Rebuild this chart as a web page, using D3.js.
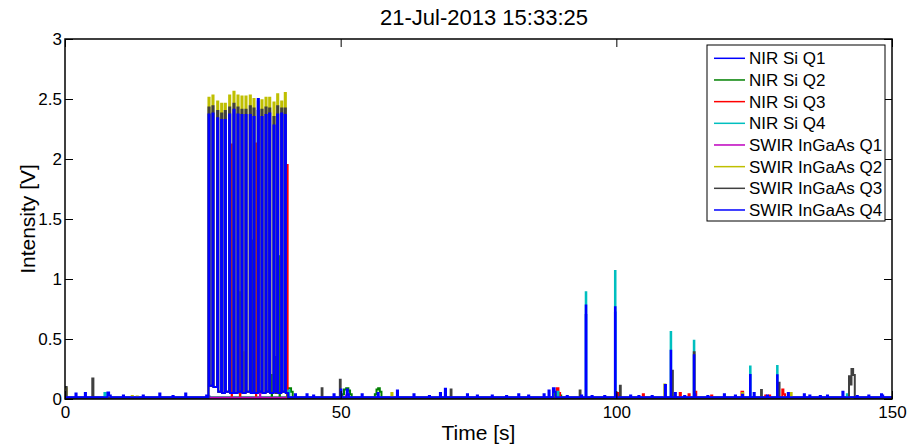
<!DOCTYPE html>
<html>
<head>
<meta charset="utf-8">
<script src="https://cdn.jsdelivr.net/npm/d3@7"></script>
<style>
  html, body { margin: 0; padding: 0; background: #fff; }
  svg { display: block; font-family: "Liberation Sans", Arial, Helvetica, sans-serif; }
</style>
</head>
<body>
<svg id="chart" width="907" height="448"></svg>
<script>
// ---- labels and ticks ----
const titleText = "21-Jul-2013 15:33:25";
const xLabel = "Time [s]";
const yLabel = "Intensity [V]";
const xTicks = [0, 50, 100, 150];
const yTicks = [0, 0.5, 1, 1.5, 2, 2.5, 3];

const seriesNames = ["NIR Si Q1", "NIR Si Q2", "NIR Si Q3", "NIR Si Q4",
                     "SWIR InGaAs Q1", "SWIR InGaAs Q2", "SWIR InGaAs Q3", "SWIR InGaAs Q4"];
const seriesColors = ["#0000ff", "#008000", "#ff0000", "#00bfbf",
                      "#bf00bf", "#bfbf00", "#404040", "#0000ff"];

// ---- lamp burst (26 s – 40 s): pulse start times [s], pulse length [s], peak / floor levels [V] ----
const burstStart = [26.02, 26.74, 27.60, 28.32, 28.98, 29.77, 30.55, 31.28, 32.00, 32.73,
                    33.51, 34.18, 34.96, 35.63, 36.36, 37.03, 37.81, 38.48, 39.21, 39.86];
const burstLength = 0.2;
const burstFloor = [0.11, 0.10, 0.06, 0.05, 0.06, 0.05, 0.05, 0.06, 0.05, 0.06,
                    0.05, 0.05, 0.06, 0.05, 0.06, 0.05, 0.06, 0.05, 0.06, 0.05];
const burstQ4Top = [2.37, 2.38, 2.34, 2.325, 2.325, 2.37, 2.41, 2.37, 2.367, 2.367,
                    2.367, 2.35, 2.50, 2.35, 2.367, 2.38, 2.28, 2.37, 2.38, 2.367];
const burstQ3Top = [2.43, 2.44, 2.40, 2.38, 2.40, 2.43, 2.46, 2.43, 2.41, 2.41,
                    2.44, 2.42, 2.40, 2.41, 2.43, 2.42, 2.35, 2.44, 2.42, 2.42];
const burstQ2Top = [2.51, 2.53, 2.48, 2.46, 2.46, 2.53, 2.56, 2.53, 2.52, 2.52,
                    2.53, 2.50, 2.48, 2.49, 2.51, 2.51, 2.47, 2.54, 2.48, 2.55];

// ---- channel samples: [time s, level V], each level holds until the next sample ----
const nirQ1 = [[0, 0.012], [26.0, 0.02], [26.2, 0.012], [94.45, 0.7], [94.55, 0.012],
               [99.75, 0.72], [99.85, 0.012], [150, 0.012]];

const nirQ2 = [[0, 0.01],
  [31.72, 0.89], [31.77, 0.01],
  [37.49, 0.2], [37.54, 0.01],
  [38.92, 1.19], [38.97, 0.01],
  [40.3, 0.05], [40.5, 0.09], [41.0, 0.06], [41.3, 0.01],
  [50.3, 0.04], [50.6, 0.08], [51.0, 0.09], [51.4, 0.07], [51.7, 0.04], [52.0, 0.01],
  [56.2, 0.04], [56.5, 0.08], [56.8, 0.09], [57.1, 0.06], [57.4, 0.01],
  [88.9, 0.05], [89.6, 0.03], [90.0, 0.01],
  [150, 0.01]];

const nirQ3 = [[0, 0.01],
  [30.23, 2.12], [30.28, 0.01],
  [31.74, 0.45], [31.79, 0.01],
  [34.64, 2.13], [34.69, 0.01],
  [40.33, 1.95], [40.38, 0.01],
  [89.2, 0.09], [89.5, 0.05], [89.8, 0.01],
  [100.1, 0.05], [100.3, 0.01],
  [104.8, 0.04], [105.0, 0.01],
  [111.5, 0.05], [111.7, 0.01],
  [113.1, 0.04], [113.3, 0.01],
  [114.3, 0.06], [114.5, 0.01],
  [117.2, 0.03], [117.4, 0.01],
  [122.7, 0.06], [123.0, 0.01],
  [127.0, 0.03], [127.2, 0.01], [127.7, 0.03], [127.9, 0.01],
  [130.1, 0.08], [130.3, 0.04], [130.6, 0.01],
  [150, 0.01]];

const nirQ4 = [[0, 0.01],
  [7.15, 0.05], [7.4, 0.01],
  [40.5, 0.07], [40.7, 0.01],
  [89.3, 0.06], [89.5, 0.01],
  [94.45, 0.89], [94.55, 0.01],
  [99.75, 1.067], [99.85, 0.01],
  [109.85, 0.558], [109.95, 0.01],
  [114.05, 0.486], [114.15, 0.01],
  [124.25, 0.27], [124.35, 0.01],
  [129.15, 0.275], [129.25, 0.01],
  [141.8, 0.04], [142.0, 0.01],
  [150, 0.01]];

const swirQ1 = [[0, 0.008],
  [35.37, 0.06], [35.42, 0.008],
  [51.0, 0.03], [51.2, 0.008],
  [150, 0.008]];

const swirQ2 = [[0, 0.09], [0.3, 0.008],
  [12.1, 0.025], [12.3, 0.008],
  [13.0, 0.02], [13.2, 0.008],
  [32.44, 0.39], [32.49, 0.05],
  [40.4, 0.008],
  [59.2, 0.05], [59.4, 0.008],
  [108.7, 0.12], [108.9, 0.008],
  [122.8, 0.05], [123.0, 0.008],
  [131.6, 0.05], [131.8, 0.008],
  [150, 0.008]];

const swirQ3 = [[0, 0.1], [0.3, 0.008],
  [4.95, 0.17], [5.15, 0.008],
  [33.92, 1.32], [33.97, 0.05],
  [38.22, 0.35], [38.27, 0.05],
  [40.4, 0.008],
  [46.55, 0.09], [46.7, 0.008],
  [49.85, 0.16], [50.0, 0.008],
  [69.95, 0.08], [70.1, 0.008],
  [93.35, 0.07], [93.5, 0.008],
  [100.65, 0.11], [100.8, 0.008],
  [110.15, 0.236], [110.25, 0.008],
  [114.05, 0.39], [114.2, 0.008],
  [126.25, 0.075], [126.4, 0.008],
  [129.45, 0.136], [129.6, 0.008],
  [142.2, 0.19], [142.45, 0.12], [142.65, 0.25], [142.95, 0.2], [143.25, 0.008],
  [150, 0.008]];

const swirQ4 = [[0, 0.015],
  [1.9, 0.045], [2.1, 0.015],
  [3.6, 0.05], [3.8, 0.015],
  [7.7, 0.055], [8.0, 0.03], [8.3, 0.015],
  [10.5, 0.03], [10.7, 0.015],
  [14.1, 0.03], [14.3, 0.015],
  [17.1, 0.045], [17.3, 0.015],
  [19.5, 0.025], [19.7, 0.015],
  [21.8, 0.045], [22.0, 0.015],
  [25.6, 0.03], [25.8, 0.015],
  [40.5, 0.015],
  [41.7, 0.04], [41.9, 0.015],
  [43.8, 0.04], [44.0, 0.015],
  [45.0, 0.03], [45.2, 0.015],
  [48.7, 0.04], [48.9, 0.015],
  [50.0, 0.08], [50.15, 0.015],
  [51.1, 0.08], [51.3, 0.04], [51.5, 0.015],
  [53.8, 0.04], [54.0, 0.015],
  [56.7, 0.05], [56.9, 0.015],
  [60.2, 0.07], [60.4, 0.015],
  [63.2, 0.04], [63.4, 0.015],
  [66.0, 0.025], [66.2, 0.015],
  [68.0, 0.05], [68.2, 0.015],
  [68.9, 0.085], [69.1, 0.015],
  [72.9, 0.04], [73.1, 0.015],
  [74.7, 0.03], [74.9, 0.015],
  [77.4, 0.03], [77.6, 0.015],
  [80.0, 0.025], [80.2, 0.015],
  [82.2, 0.04], [82.4, 0.015],
  [84.0, 0.03], [84.2, 0.015],
  [86.8, 0.04], [87.0, 0.015],
  [87.7, 0.07], [87.9, 0.015],
  [88.5, 0.09], [88.8, 0.06], [89.0, 0.015],
  [91.0, 0.025], [91.2, 0.015],
  [93.6, 0.03], [93.8, 0.015],
  [94.45, 0.78], [94.55, 0.015],
  [95.5, 0.025], [95.7, 0.015],
  [97.8, 0.025], [98.0, 0.015],
  [99.75, 0.765], [99.85, 0.04], [100.05, 0.015],
  [102.5, 0.03], [102.7, 0.015],
  [104.0, 0.025], [104.2, 0.015],
  [106.4, 0.025], [106.6, 0.015],
  [108.8, 0.117], [109.0, 0.015],
  [109.85, 0.403], [109.95, 0.015],
  [110.6, 0.05], [110.8, 0.015],
  [112.3, 0.025], [112.5, 0.015],
  [114.05, 0.364], [114.15, 0.04], [114.35, 0.015],
  [116.5, 0.025], [116.7, 0.015],
  [119.5, 0.04], [119.7, 0.015],
  [121.5, 0.03], [121.7, 0.015],
  [122.8, 0.035], [123.0, 0.015],
  [124.25, 0.2], [124.35, 0.015],
  [124.9, 0.05], [125.1, 0.015],
  [127.3, 0.03], [127.5, 0.015],
  [129.15, 0.197], [129.25, 0.015],
  [131.1, 0.05], [131.3, 0.015],
  [134.0, 0.04], [134.2, 0.015],
  [135.0, 0.03], [135.2, 0.015],
  [136.9, 0.025], [137.1, 0.015],
  [138.2, 0.03], [138.4, 0.015],
  [141.0, 0.06], [141.2, 0.015],
  [143.6, 0.025], [143.8, 0.015],
  [145.7, 0.03], [145.9, 0.015],
  [148.0, 0.04], [148.2, 0.03], [148.4, 0.015],
  [150, 0.015]];

// merge a pulse train into a channel's sample list
function withBurst(base, starts, tops, floors, len) {
  const pts = base.slice();
  starts.forEach((s, i) => {
    pts.push([s, tops[i]]);
    pts.push([s + len, floors[i]]);
  });
  return pts.sort((a, b) => a[0] - b[0]);
}

const channels = [
  nirQ1, nirQ2, nirQ3, nirQ4, swirQ1,
  withBurst(swirQ2, burstStart, burstQ2Top, burstFloor, burstLength),
  withBurst(swirQ3, burstStart, burstQ3Top, burstFloor, burstLength),
  withBurst(swirQ4, burstStart, burstQ4Top, burstFloor, burstLength)
];

// ---- layout ----
const W = 907, H = 448;
const plot = { left: 65, right: 892, top: 39, bottom: 399 };
const tickLen = 8;

const svg = d3.select("#chart");
const x = d3.scaleLinear().domain([0, 150]).range([plot.left, plot.right]);
const y = d3.scaleLinear().domain([0, 3]).range([plot.bottom, plot.top]);

svg.append("rect").attr("width", W).attr("height", H).attr("fill", "#fff");

svg.append("clipPath").attr("id", "plotClip")
  .append("rect")
  .attr("x", plot.left).attr("y", plot.top)
  .attr("width", plot.right - plot.left).attr("height", plot.bottom - plot.top);

const line = d3.line()
  .x(d => x(d[0]))
  .y(d => y(d[1]))
  .curve(d3.curveStepAfter);

const traces = svg.append("g").attr("clip-path", "url(#plotClip)");
channels.forEach((data, i) => {
  traces.append("path")
    .datum(data)
    .attr("fill", "none")
    .attr("stroke", seriesColors[i])
    .attr("stroke-width", 2)
    .attr("stroke-linejoin", "miter")
    .attr("d", line);
});

// ---- axes: ticks point inward on all four sides ----
const fmt = d => String(d);
function styleAxis(g) {
  g.select(".domain").remove();
  g.selectAll(".tick line").attr("stroke", "#000").attr("stroke-width", 1);
  g.selectAll(".tick text")
    .attr("fill", "#000")
    .attr("font-family", "'Liberation Sans', Arial, sans-serif")
    .attr("font-size", 17);
}

svg.append("g").attr("transform", `translate(${plot.left},0)`)
  .call(d3.axisLeft(y).tickValues(yTicks).tickFormat(fmt).tickSize(-tickLen).tickPadding(3))
  .call(styleAxis);
svg.append("g").attr("transform", `translate(${plot.right},0)`)
  .call(d3.axisRight(y).tickValues(yTicks).tickFormat("").tickSize(-tickLen))
  .call(styleAxis);
svg.append("g").attr("transform", `translate(0,${plot.bottom})`)
  .call(d3.axisBottom(x).tickValues(xTicks).tickFormat(fmt).tickSize(-tickLen).tickPadding(7))
  .call(styleAxis);
svg.append("g").attr("transform", `translate(0,${plot.top})`)
  .call(d3.axisTop(x).tickValues(xTicks).tickFormat("").tickSize(-tickLen))
  .call(styleAxis);

svg.append("rect")
  .attr("x", plot.left).attr("y", plot.top)
  .attr("width", plot.right - plot.left).attr("height", plot.bottom - plot.top)
  .attr("fill", "none").attr("stroke", "#000").attr("stroke-width", 1.5);

// ---- title and axis labels ----
svg.append("text")
  .attr("x", 484).attr("y", 25)
  .attr("text-anchor", "middle")
  .attr("font-size", 22)
  .text(titleText);

svg.append("text")
  .attr("x", (plot.left + plot.right) / 2).attr("y", 440)
  .attr("text-anchor", "middle")
  .attr("font-size", 21)
  .text(xLabel);

svg.append("text")
  .attr("transform", `translate(35,${(plot.top + plot.bottom) / 2}) rotate(-90)`)
  .attr("text-anchor", "middle")
  .attr("font-size", 21)
  .text(yLabel);

// ---- legend ----
const legend = { x: 707, y: 45, w: 178, h: 176, row0: 58.3, rowStep: 21.67 };
const lg = svg.append("g");
lg.append("rect")
  .attr("x", legend.x).attr("y", legend.y)
  .attr("width", legend.w).attr("height", legend.h)
  .attr("fill", "#fff").attr("stroke", "#000").attr("stroke-width", 1);

seriesNames.forEach((name, i) => {
  const ry = legend.row0 + i * legend.rowStep;
  lg.append("line")
    .attr("x1", legend.x + 7).attr("x2", legend.x + 38)
    .attr("y1", ry).attr("y2", ry)
    .attr("stroke", seriesColors[i]).attr("stroke-width", 1.5);
  lg.append("text")
    .attr("x", legend.x + 42).attr("y", ry)
    .attr("dy", "0.35em")
    .attr("font-size", 17)
    .text(name);
});
</script>
</body>
</html>
